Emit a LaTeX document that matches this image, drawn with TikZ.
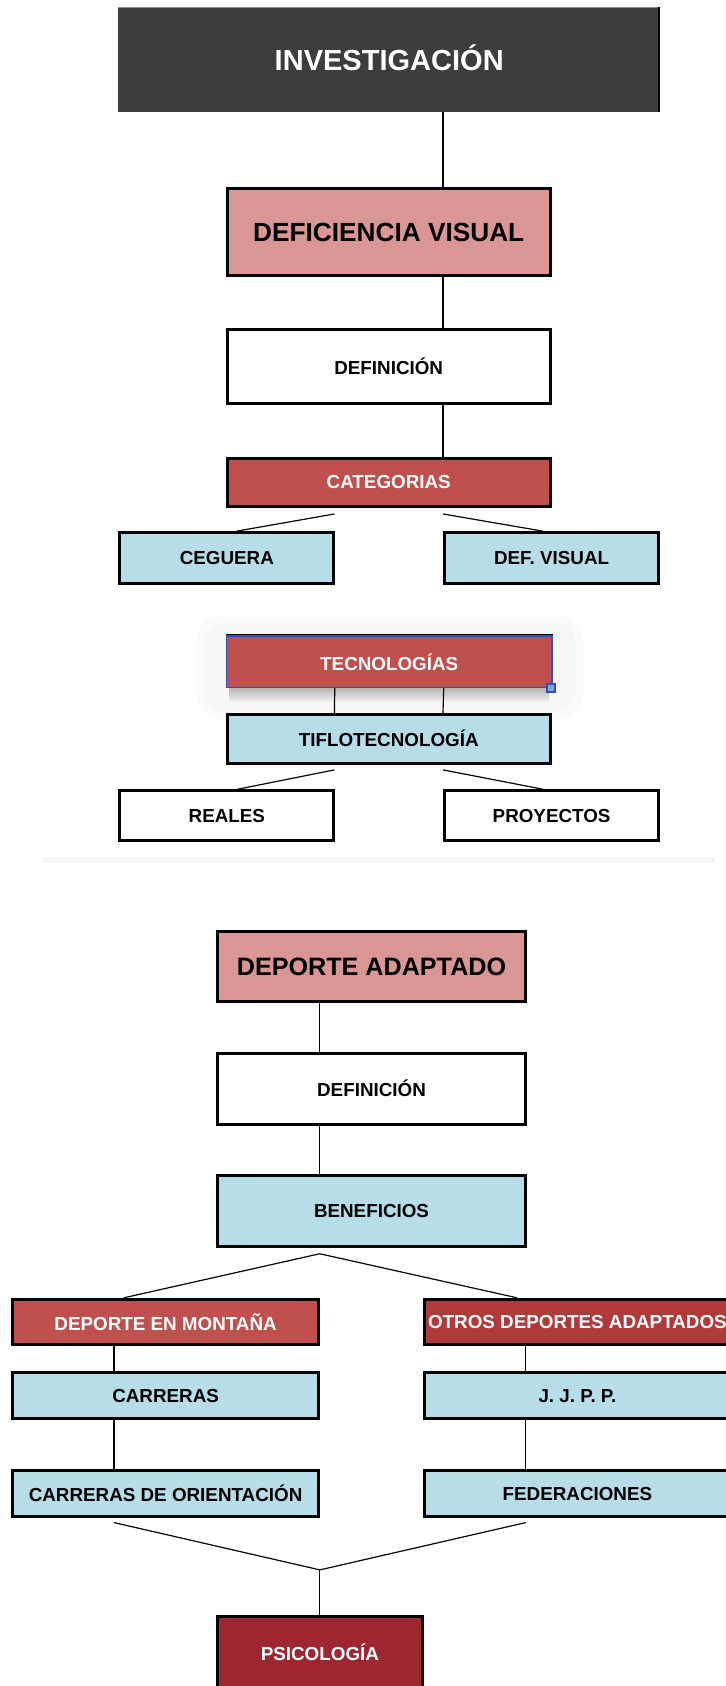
\documentclass[tikz,border=0pt]{standalone}
\usepackage{fontspec}
\setmainfont{Liberation Sans}
\usetikzlibrary{calc}
\definecolor{darkbox}{HTML}{3D3D3D}
\definecolor{pinkbox}{HTML}{D99694}
\definecolor{redbox}{HTML}{C0504D}
\definecolor{bluebox}{HTML}{B6DDE8}
\definecolor{otrosred}{HTML}{B03A3A}
\definecolor{psired}{HTML}{9D2631}
\definecolor{selblue}{HTML}{2B55B8}
\begin{document}
\begin{tikzpicture}[x=1pt,y=-1pt,
  sz/.style 2 args={minimum width={#1*1pt-2.8pt},minimum height={#2*1pt-2.8pt}},
  box/.style={draw=black,line width=2.8pt,rectangle,inner sep=0pt,align=center,
    font=\bfseries\fontsize{17.5}{20}\selectfont},
  wbox/.style={box,fill=white},
  bbox/.style={box,fill=bluebox},
  rbox/.style={box,fill=redbox,text=white},
  pbox/.style={box,fill=pinkbox},
  conn/.style={line width=1.1pt,draw=black},
]
\useasboundingbox (0,0) rectangle (675,1568);
\clip (0,0) rectangle (675,1568);

% ---------- top part ----------
\node[fill=darkbox,minimum width=504pt,minimum height=97pt,inner sep=0pt,text=white,
  text height=19.5pt,text depth=0pt,
  font=\bfseries\fontsize{27}{30}\selectfont] (inv) at (362,55.5) {INVESTIGACIÓN};
\draw[black!45,line width=0.8pt] (inv.north west) -- (inv.north east);
\draw[black,line width=2.5pt] ($(inv.north east)+(-1.25,0)$) -- ($(inv.south east)+(-1.25,0)$);

\node[pbox,sz={303}{84},font=\bfseries\fontsize{24.4}{28}\selectfont] (defv) at (361.5,216) {DEFICIENCIA VISUAL};
\node[wbox,sz={303}{72}] (defa) at (361.5,341) {DEFINICIÓN};
\node[rbox,sz={303}{47}] (cat) at (361.5,448.5) {CATEGORIAS};
\node[bbox,sz={202}{50}] (ceg) at (211,519) {CEGUERA};
\node[bbox,sz={202}{50}] (dfv) at (513,519) {DEF. VISUAL};

\coordinate (tA) at ($(defv.north west)!2/3!(defv.north east)$);
\draw[conn] (tA |- inv.south) -- (tA);
\draw[conn] ($(defv.south west)!2/3!(defv.south east)$) -- ($(defa.north west)!2/3!(defa.north east)$);
\draw[conn] ($(defa.south west)!2/3!(defa.south east)$) -- ($(cat.north west)!2/3!(cat.north east)$);
\draw[conn] ($(cat.south west)!1/3!(cat.south east)+(0,6)$) -- ($(ceg.north)+(9,0)$);
\draw[conn] ($(cat.south west)!2/3!(cat.south east)+(0,6)$) -- ($(dfv.north)+(-8,0)$);

% selection glow and shadow of TECNOLOGIAS
\fill[black!1.5,rounded corners=24pt] (183,572) rectangle (542,669);
\fill[black!3,rounded corners=18pt] (190,579) rectangle (535,662);
\foreach \i in {1,...,7}{
  \fill[black,opacity=0.04] (213,630) rectangle (511,640+1.8*\i);
}
\node[rbox,draw=selblue,line width=1.2pt,minimum width=302.8pt,minimum height=47.8pt] (tec) at (362,615.5) {TECNOLOGÍAS};
\draw[black,line width=1.2pt] ($(tec.north west)+(0,-0.6)$) -- ($(tec.north east)+(0,-0.6)$);
\fill[selblue] (508,635) rectangle (517.5,644.5);
\fill[selblue!55!white] (510,637) rectangle (515.5,642.5);

\node[bbox,sz={303}{48}] (tif) at (361.5,687) {TIFLOTECNOLOGÍA};
\node[wbox,sz={202}{49}] (rea) at (211,758.5) {REALES};
\node[wbox,sz={202}{49}] (pro) at (513,758.5) {PROYECTOS};

\draw[conn] ($(tec.south west)!1/3!(tec.south east)$) -- ($(tif.north west)!1/3!(tif.north east)$);
\draw[conn] ($(tec.south west)!2/3!(tec.south east)$) -- ($(tif.north west)!2/3!(tif.north east)$);
\draw[conn] ($(tif.south west)!1/3!(tif.south east)+(0,5)$) -- ($(rea.north)+(10,0)$);
\draw[conn] ($(tif.south west)!2/3!(tif.south east)+(0,5)$) -- ($(pro.north)+(-8,0)$);

\fill[black!3] (39,797) rectangle (665,803);

% ---------- bottom part ----------
\node[pbox,sz={289}{68},font=\bfseries\fontsize{23.4}{27}\selectfont] (dep) at (345.5,899) {DEPORTE ADAPTADO};
\node[wbox,sz={289}{69}] (defb) at (345.5,1012.5) {DEFINICIÓN};
\node[bbox,sz={289}{69}] (ben) at (345.5,1126.5) {BENEFICIOS};

\node[rbox,sz={288}{45}] (mon) at (154,1229.5) {DEPORTE EN MONTAÑA};
\node[box,fill=otrosred,text=white,sz={288}{45}] (otr) at (537,1229.5) {OTROS DEPORTES ADAPTADOS};
\node[bbox,sz={288}{46}] (car) at (154,1298) {CARRERAS};
\node[bbox,sz={288}{46}] (jjp) at (537,1298) {J. J. P. P.};
\node[bbox,sz={288}{46}] (ori) at (154,1389) {CARRERAS DE ORIENTACIÓN};
\node[bbox,sz={288}{46}] (fed) at (537,1389) {FEDERACIONES};
\node[box,fill=psired,text=white,sz={193}{70}] (psi) at (297.5,1537) {PSICOLOGÍA};

\draw[conn] ($(dep.south west)!1/3!(dep.south east)$) -- ($(defb.north west)!1/3!(defb.north east)$);
\draw[conn] ($(defb.south west)!1/3!(defb.south east)$) -- ($(ben.north west)!1/3!(ben.north east)$);
\coordinate (apex) at ($(ben.south west)!1/3!(ben.south east)+(0,5)$);
\draw[conn] ($(mon.north)+(-39,0)$) -- (apex) -- ($(otr.north)+(-56,0)$);
\draw[conn] ($(mon.south west)!1/3!(mon.south east)$) -- ($(car.north west)!1/3!(car.north east)$);
\draw[conn] ($(car.south west)!1/3!(car.south east)$) -- ($(ori.north west)!1/3!(ori.north east)$);
\draw[conn] ($(otr.south west)!1/3!(otr.south east)$) -- ($(jjp.north west)!1/3!(jjp.north east)$);
\draw[conn] ($(jjp.south west)!1/3!(jjp.south east)$) -- ($(fed.north west)!1/3!(fed.north east)$);
\coordinate (join) at ($(psi.north)+(0,-42)$);
\draw[conn] ($(ori.south west)!1/3!(ori.south east)+(0,4)$) -- (join);
\draw[conn] ($(fed.south west)!1/3!(fed.south east)+(0,4)$) -- (join);
\draw[conn] (join) -- (psi.north);
\end{tikzpicture}
\end{document}
